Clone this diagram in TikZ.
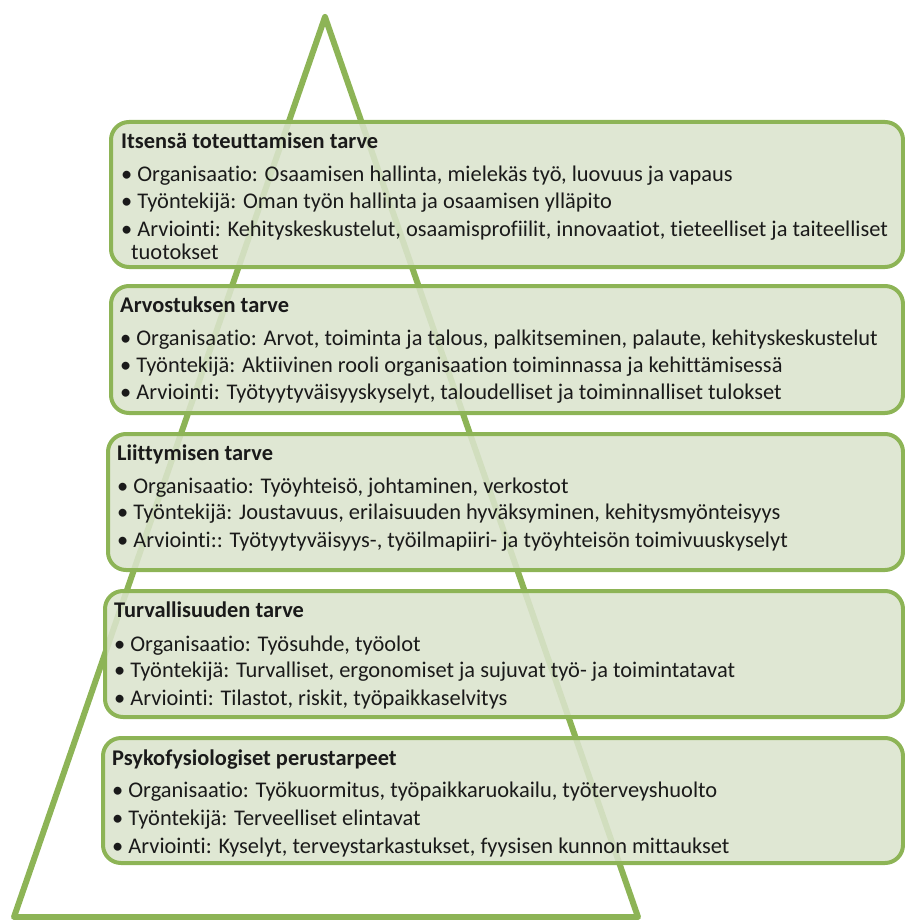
\documentclass[tikz,border=0pt]{standalone}
\usepackage{fontspec}
\setmainfont{Carlito}[Ligatures={NoCommon}]
\definecolor{gborder}{HTML}{8DB456}
\definecolor{gfill}{RGB}{219,228,205}
\definecolor{txt}{HTML}{1A1A1A}
\begin{document}
\begin{tikzpicture}[x=1pt,y=-1pt,
  boxst/.style={draw=gborder, line width=4pt, fill=gfill, fill opacity=0.88, rounded corners=18pt, rectangle, anchor=north west, inner sep=0pt},
  tri/.style={draw=gborder, line width=6pt, line join=round},
  ttl/.style={anchor=base west, inner sep=0pt, text=txt, font=\fontsize{22.4}{26}\selectfont\bfseries},
  itm/.style={anchor=base west, inner sep=0pt, text=txt, font=\fontsize{22.4}{26}\selectfont}]
\useasboundingbox (0,0) rectangle (904,920);
\coordinate (apex) at (325,17);
\coordinate (bl) at (14,917);
\coordinate (br) at (638,917);
\draw[tri] (apex) -- (br) -- (bl) -- cycle;

\node[boxst, minimum width=792pt, minimum height=145pt] (b1) at (109,120) {};
\node[boxst, minimum width=792pt, minimum height=127pt] (b2) at (109,284) {};
\node[boxst, minimum width=795pt, minimum height=136pt] (b3) at (106,432) {};
\node[boxst, minimum width=798pt, minimum height=126pt] (b4) at (103,589) {};
\node[boxst, minimum width=800pt, minimum height=125pt] (b5) at (101,736) {};

\node[ttl] (t1) at (121,149) {Itsensä toteuttamisen tarve};
\node[itm] (t1a) at (121,182) {• Organisaatio:  Osaamisen  hallinta, mielekäs  työ, luovuus  ja vapaus};
\node[itm] (t1b) at (121,208) {• Työntekijä:  Oman  työn  hallinta ja osaamisen  ylläpito};
\node[itm] (t1c) at (121,236) {• Arviointi:  Kehityskeskustelut,  osaamisprofiilit,  innovaatiot,  tieteelliset  ja  taiteelliset};
\node[itm] (t1d) at (131,259) {tuotokset};

\node[ttl] (t2) at (120,312) {Arvostuksen tarve};
\node[itm] (t2a) at (120,345) {• Organisaatio: Arvot,  toiminta  ja talous,  palkitseminen,  palaute,  kehityskeskustelut};
\node[itm] (t2b) at (120,372) {• Työntekijä:  Aktiivinen  rooli  organisaation  toiminnassa  ja kehittämisessä};
\node[itm] (t2c) at (120,399) {• Arviointi:  Työtyytyväisyyskyselyt,  taloudelliset  ja toiminnalliset  tulokset};

\node[ttl] (t3) at (117,460) {Liittymisen tarve};
\node[itm] (t3a) at (117,493) {• Organisaatio: Työyhteisö,  johtaminen,  verkostot};
\node[itm] (t3b) at (117,519) {• Työntekijä: Joustavuus,  erilaisuuden  hyväksyminen,  kehitysmyönteisyys};
\node[itm] (t3c) at (117,547) {• Arviointi:: Työtyytyväisyys-,  työilmapiiri-  ja työyhteisön  toimivuuskyselyt};

\node[ttl] (t4) at (114,617) {Turvallisuuden tarve};
\node[itm] (t4a) at (114,651) {• Organisaatio: Työsuhde,  työolot};
\node[itm] (t4b) at (114,677) {• Työntekijä:  Turvalliset,  ergonomiset  ja sujuvat  työ- ja toimintatavat};
\node[itm] (t4c) at (114,705) {• Arviointi:  Tilastot,  riskit,  työpaikkaselvitys};

\node[ttl] (t5) at (112,765) {Psykofysiologiset perustarpeet};
\node[itm] (t5a) at (112,797) {• Organisaatio: Työkuormitus,  työpaikkaruokailu,  työterveyshuolto};
\node[itm] (t5b) at (112,825) {• Työntekijä:  Terveelliset  elintavat};
\node[itm] (t5c) at (112,853) {• Arviointi:  Kyselyt,  terveystarkastukset,  fyysisen  kunnon  mittaukset};
\end{tikzpicture}
\end{document}
